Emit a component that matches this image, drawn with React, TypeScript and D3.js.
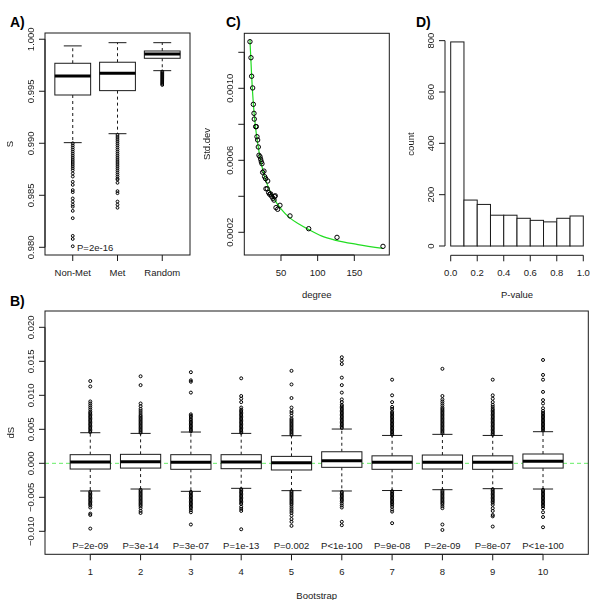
import React from 'react';
import * as d3 from 'd3';

// ---------- Panel A data ----------
const groupsA = ['Non-Met', 'Met', 'Random'];
const aQ1 = [0.99464, 0.99506, 0.99817];
const aMed = [0.99647, 0.99673, 0.99859];
const aQ3 = [0.99769, 0.99779, 0.99887];
const aLo = [0.99006, 0.99092, 0.99698];
const aHi = [0.99936, 0.99967, 0.99967];
const aOut = [
  [0.9900, 0.9898, 0.9896, 0.9894, 0.9892, 0.9890, 0.9888, 0.9886, 0.9884, 0.9882, 0.9880, 0.9878, 0.9876, 0.9874, 0.9871, 0.9868, 0.9863, 0.9860, 0.9855, 0.9853, 0.9847, 0.9844, 0.9841, 0.9839, 0.9835, 0.9828, 0.9811, 0.9808, 0.9801],
  [0.9908, 0.9906, 0.9904, 0.9902, 0.9900, 0.9898, 0.9896, 0.9894, 0.9892, 0.9890, 0.9888, 0.9886, 0.9884, 0.9882, 0.9880, 0.9878, 0.9876, 0.9874, 0.9872, 0.9870, 0.9868, 0.9866, 0.9865, 0.9862, 0.9854, 0.9852, 0.9844, 0.9841, 0.9838],
  [0.9969, 0.9968, 0.9967, 0.9966, 0.9965, 0.9964, 0.9963, 0.9962, 0.9961, 0.9960, 0.9959, 0.9958, 0.9957, 0.9956],
];
const aTicks = [0.980, 0.985, 0.990, 0.995, 1.000];
const aPLabel = 'P=2e-16';

// ---------- Panel C data ----------
const degree = [7.7, 9.1, 10.0, 11.4, 12.3, 13.2, 13.6, 15.5, 16.4, 17.3, 18.2, 19.1, 20.0, 21.4, 22.3, 23.2, 24.1, 25.0, 26.8, 27.7, 29.1, 31.9, 29.5, 31.3, 33.2, 34.6, 36.0, 37.3, 39.1, 40.5, 41.4, 42.2, 43.2, 45.5, 48.6, 62.3, 87.8, 126.4, 189.1];
const stdDev = [0.001259, 0.00117, 0.001067, 0.001002, 0.000911, 0.000861, 0.000829, 0.000787, 0.000787, 0.000731, 0.000713, 0.000674, 0.000628, 0.00062, 0.000606, 0.000592, 0.000581, 0.000533, 0.00054, 0.000509, 0.000498, 0.000485, 0.000442, 0.000442, 0.00042, 0.000411, 0.000413, 0.0004, 0.000389, 0.000379, 0.000398, 0.000403, 0.000337, 0.000328, 0.00035, 0.000291, 0.00022, 0.000172, 0.000122];
const fitDegree = [7.7, 10, 13, 16, 20, 25, 30, 35, 40, 50, 62, 75, 88, 105, 125, 155, 189];
const fitStd = [0.00127, 0.00107, 0.00088, 0.00076, 0.00065, 0.00055, 0.00048, 0.00043, 0.00039, 0.00033, 0.00028, 0.000245, 0.000215, 0.00018, 0.000155, 0.000132, 0.000111];
const cXTicks = [50, 100, 150];
const cYTicks = [0.0002, 0.0004, 0.0006, 0.0008, 0.0010, 0.0012];
const cYLabels = [0.0002, 0.0006, 0.0010];

// ---------- Panel D data ----------
const binStart = [0.0, 0.1, 0.2, 0.3, 0.4, 0.5, 0.6, 0.7, 0.8, 0.9];
const binCount = [795, 179, 162, 120, 120, 108, 100, 94, 108, 117];
const dXTicks = [0.0, 0.2, 0.4, 0.6, 0.8, 1.0];
const dYTicks = [0, 200, 400, 600, 800];

// ---------- Panel B data ----------
const bootIds = [1, 2, 3, 4, 5, 6, 7, 8, 9, 10];
const bQ1 = [-0.00084, -0.0007, -0.00088, -0.00079, -0.00098, -0.00059, -0.00088, -0.00084, -0.00088, -0.0007];
const bMed = [0.0002, 0.00024, 0.00015, 0.0002, 0.0001, 0.00039, 0.00015, 0.00014, 0.00015, 0.00029];
const bQ3 = [0.00127, 0.00132, 0.00127, 0.00127, 0.00102, 0.0017, 0.0011, 0.00122, 0.0011, 0.00137];
const bLo = [-0.00407, -0.00378, -0.00412, -0.00368, -0.00402, -0.00407, -0.004, -0.00388, -0.00373, -0.00378];
const bHi = [0.0045, 0.0044, 0.0046, 0.0044, 0.00406, 0.00504, 0.0041, 0.00426, 0.0041, 0.00465];
const bOut = [
  [0.0046, 0.0048, 0.0050, 0.0052, 0.0054, 0.0056, 0.0058, 0.0060, 0.0062, 0.0064, 0.0066, 0.0068, 0.0070, 0.0072, 0.0074, 0.0076, 0.0079, 0.0082, 0.0085, 0.0088, 0.0091, 0.0113, 0.0121,
   -0.0042, -0.0044, -0.0046, -0.0048, -0.0050, -0.0052, -0.0054, -0.0056, -0.0058, -0.0060, -0.0062, -0.0065, -0.0074, -0.0076, -0.0096],
  [0.0045, 0.0047, 0.0049, 0.0051, 0.0053, 0.0055, 0.0057, 0.0059, 0.0061, 0.0063, 0.0065, 0.0067, 0.0069, 0.0071, 0.0074, 0.0077, 0.0080, 0.0084, 0.0088, 0.0115, 0.0128,
   -0.0039, -0.0041, -0.0043, -0.0045, -0.0047, -0.0049, -0.0051, -0.0053, -0.0055, -0.0057, -0.0059, -0.0061, -0.0063, -0.0066, -0.0070, -0.0073],
  [0.0047, 0.0049, 0.0051, 0.0053, 0.0055, 0.0057, 0.0059, 0.0061, 0.0063, 0.0065, 0.0068, 0.0070, 0.0072, 0.0104, 0.0120, 0.0122, 0.0134,
   -0.0042, -0.0044, -0.0046, -0.0048, -0.0050, -0.0052, -0.0054, -0.0056, -0.0058, -0.0060, -0.0062, -0.0064, -0.0066, -0.0069, -0.0072, -0.0090],
  [0.0045, 0.0047, 0.0049, 0.0051, 0.0053, 0.0055, 0.0057, 0.0059, 0.0061, 0.0063, 0.0065, 0.0067, 0.0069, 0.0071, 0.0073, 0.0075, 0.0077, 0.0079, 0.0082, 0.0090, 0.0095, 0.0099, 0.0125,
   -0.0038, -0.0040, -0.0042, -0.0044, -0.0046, -0.0048, -0.0050, -0.0052, -0.0054, -0.0056, -0.0058, -0.0060, -0.0064, -0.0067, -0.0070, -0.0097],
  [0.0042, 0.0044, 0.0046, 0.0048, 0.0050, 0.0052, 0.0054, 0.0056, 0.0058, 0.0060, 0.0062, 0.0064, 0.0066, 0.0070, 0.0074, 0.0077, 0.0082, 0.0096, 0.0116, 0.0136,
   -0.0041, -0.0043, -0.0045, -0.0047, -0.0049, -0.0051, -0.0053, -0.0055, -0.0057, -0.0059, -0.0061, -0.0064, -0.0067, -0.0070, -0.0073, -0.0077, -0.0082, -0.0086, -0.0092],
  [0.0052, 0.0054, 0.0056, 0.0058, 0.0060, 0.0062, 0.0064, 0.0066, 0.0068, 0.0070, 0.0072, 0.0074, 0.0076, 0.0078, 0.0080, 0.0082, 0.0084, 0.0086, 0.0090, 0.0094, 0.0104, 0.0115, 0.0126, 0.0146, 0.0151, 0.0156,
   -0.0042, -0.0044, -0.0046, -0.0048, -0.0050, -0.0052, -0.0054, -0.0056, -0.0059, -0.0062, -0.0065, -0.0086, -0.0091],
  [0.0042, 0.0044, 0.0046, 0.0048, 0.0050, 0.0052, 0.0054, 0.0056, 0.0058, 0.0060, 0.0062, 0.0064, 0.0066, 0.0068, 0.0070, 0.0072, 0.0074, 0.0076, 0.0080, 0.0083, 0.0090, 0.0100, 0.0123,
   -0.0041, -0.0043, -0.0045, -0.0047, -0.0049, -0.0051, -0.0053, -0.0055, -0.0057, -0.0059, -0.0061, -0.0064, -0.0068, -0.0071, -0.0088],
  [0.0044, 0.0046, 0.0048, 0.0050, 0.0052, 0.0054, 0.0056, 0.0058, 0.0060, 0.0062, 0.0064, 0.0066, 0.0068, 0.0070, 0.0072, 0.0074, 0.0076, 0.0078, 0.0080, 0.0082, 0.0085, 0.0088, 0.0091, 0.0094, 0.0099, 0.0139,
   -0.0040, -0.0042, -0.0044, -0.0046, -0.0048, -0.0050, -0.0052, -0.0054, -0.0056, -0.0058, -0.0060, -0.0063, -0.0066, -0.0090, -0.0098],
  [0.0042, 0.0044, 0.0046, 0.0048, 0.0050, 0.0052, 0.0054, 0.0056, 0.0058, 0.0060, 0.0062, 0.0064, 0.0066, 0.0068, 0.0070, 0.0072, 0.0074, 0.0076, 0.0078, 0.0080, 0.0083, 0.0086, 0.0090, 0.0095, 0.0100, 0.0123,
   -0.0038, -0.0040, -0.0042, -0.0044, -0.0046, -0.0048, -0.0050, -0.0052, -0.0054, -0.0056, -0.0058, -0.0061, -0.0066, -0.0070, -0.0076, -0.0078, -0.0093],
  [0.0048, 0.0050, 0.0052, 0.0054, 0.0056, 0.0058, 0.0060, 0.0062, 0.0064, 0.0066, 0.0068, 0.0070, 0.0072, 0.0074, 0.0077, 0.0081, 0.0088, 0.0093, 0.0105, 0.0123, 0.0130, 0.0152,
   -0.0039, -0.0041, -0.0043, -0.0045, -0.0047, -0.0049, -0.0051, -0.0053, -0.0055, -0.0057, -0.0059, -0.0061, -0.0063, -0.0066, -0.0072, -0.0079, -0.0094],
];
const bPLabels = ['P=2e-09', 'P=3e-14', 'P=3e-07', 'P=1e-13', 'P=0.002', 'P<1e-100', 'P=9e-08', 'P=2e-09', 'P=8e-07', 'P<1e-100'];
const bYTicks = [-0.010, -0.005, 0.000, 0.005, 0.010, 0.015, 0.020];

// ---------- styling ----------
const FONT = '"Liberation Sans", Arial, Helvetica, sans-serif';
const FS = 9.5;
const TXT = '#1a1a1a';
const LINE = '#1a1a1a';
const TICK = 6;
const GRAY = 'url(#grayText)';

type BoxProps = {
  cx: number; bw: number; y: (v: number) => number;
  q1: number; med: number; q3: number; lo: number; hi: number; out: number[]; r: number;
};

function Box({ cx, bw, y, q1, med, q3, lo, hi, out, r }: BoxProps) {
  const hw = bw / 2;
  const cw = bw / 4;
  return (
    <g>
      <line x1={cx} x2={cx} y1={y(q3)} y2={y(hi)} stroke={LINE} strokeWidth={1} strokeDasharray="3,3" />
      <line x1={cx} x2={cx} y1={y(q1)} y2={y(lo)} stroke={LINE} strokeWidth={1} strokeDasharray="3,3" />
      <line x1={cx - cw} x2={cx + cw} y1={y(hi)} y2={y(hi)} stroke={LINE} strokeWidth={1} />
      <line x1={cx - cw} x2={cx + cw} y1={y(lo)} y2={y(lo)} stroke={LINE} strokeWidth={1} />
      <rect x={cx - hw} y={y(q3)} width={bw} height={y(q1) - y(q3)} fill="#fff" stroke={LINE} strokeWidth={1} />
      <line x1={cx - hw} x2={cx + hw} y1={y(med)} y2={y(med)} stroke="#000" strokeWidth={3} />
      {out.map((v, i) => (
        <circle key={i} cx={cx} cy={y(v)} r={r} fill="none" stroke="#000" strokeWidth={1} />
      ))}
    </g>
  );
}

function YAxis({ x, y, ticks, labels, fmt }: { x: number; y: (v: number) => number; ticks: number[]; labels: number[]; fmt: (v: number) => string }) {
  const ys = ticks.map(y);
  return (
    <g>
      <line x1={x} x2={x} y1={Math.min(...ys)} y2={Math.max(...ys)} stroke={LINE} />
      {ticks.map((t, i) => (
        <line key={i} x1={x - TICK} x2={x} y1={y(t)} y2={y(t)} stroke={LINE} />
      ))}
      <g filter={GRAY}>
        {labels.map((t, i) => (
          <text key={i} transform={`translate(${x - 15},${y(t)}) rotate(-90)`} textAnchor="middle" dominantBaseline="central"
            fontSize={FS} fontFamily={FONT} fill={TXT}>{fmt(t)}</text>
        ))}
      </g>
    </g>
  );
}

function XAxis({ y, x, ticks, fmt }: { y: number; x: (v: number) => number; ticks: number[]; fmt: (v: number) => string }) {
  const xs = ticks.map(x);
  return (
    <g>
      <line y1={y} y2={y} x1={Math.min(...xs)} x2={Math.max(...xs)} stroke={LINE} />
      {ticks.map((t, i) => (
        <line key={i} y1={y} y2={y + TICK} x1={x(t)} x2={x(t)} stroke={LINE} />
      ))}
      {ticks.map((t, i) => (
        <text key={i} x={x(t)} y={y + 17} textAnchor="middle" dominantBaseline="central"
          fontSize={FS} fontFamily={FONT} fill={TXT}>{fmt(t)}</text>
      ))}
    </g>
  );
}

const PanelLabel = ({ x, y, t }: { x: number; y: number; t: string }) => (
  <text x={x} y={y} fontSize={14} fontWeight="bold" fontFamily={FONT} fill="#000">{t}</text>
);

const VText = ({ x, y, t }: { x: number; y: number; t: string }) => (
  <g filter={GRAY}>
    <text transform={`translate(${x},${y}) rotate(-90)`} textAnchor="middle" dominantBaseline="central"
      fontSize={FS} fontFamily={FONT} fill={TXT}>{t}</text>
  </g>
);

export default function App() {
  // Panel A
  const aL = 45, aR = 190, top = 33, bot = 255;
  const xA = d3.scaleLinear().domain([0.38, 3.62]).range([aL, aR]);
  const yA = d3.scaleLinear().domain([0.97926, 1.0006]).range([bot, top]);
  const bwA = xA(0.8) - xA(0);

  // Panel C
  const cL = 244.3, cR = 389.3;
  const xC = d3.scaleLinear().domain([0, 197.7]).range([cL, cR]);
  const yC = d3.scaleLinear().domain([0.0000739, 0.0013056]).range([bot, 33.3]);
  const fitLine = d3.line<number>().x((d, i) => xC(fitDegree[i])).y((d) => yC(d)).curve(d3.curveMonotoneX);

  // Panel D
  const xD = d3.scaleLinear().domain([-0.04, 1.04]).range([445.4, 588.6]);
  const yD = d3.scaleLinear().domain([-35, 829.8]).range([bot, top]);

  // Panel B
  const bL = 45, bR = 588.3, bT = 311, bB = 554.3;
  const xB = d3.scaleLinear().domain([0.1, 10.9]).range([bL, bR]);
  const yB = d3.scaleLinear().domain([-0.01338, 0.0224]).range([bB, bT]);
  const bwB = xB(0.8) - xB(0);

  return (
    <svg width={600} height={600} style={{ position: 'absolute', left: 0, top: 0, background: '#fff' }}>
      <defs>
        <filter id="grayText" x="-20%" y="-20%" width="140%" height="140%">
          <feColorMatrix type="saturate" values="0" />
        </filter>
      </defs>
      <rect width={600} height={600} fill="#fff" />

      {/* ---------- A ---------- */}
      <PanelLabel x={10} y={27} t="A)" />
      {groupsA.map((g, i) => (
        <Box key={g} cx={xA(i + 1)} bw={bwA} y={yA} q1={aQ1[i]} med={aMed[i]} q3={aQ3[i]} lo={aLo[i]} hi={aHi[i]} out={aOut[i]} r={1.4} />
      ))}
      <rect x={aL} y={top} width={aR - aL} height={bot - top} fill="none" stroke={LINE} />
      <YAxis x={aL} y={yA} ticks={aTicks} labels={aTicks} fmt={d3.format('.3f')} />
      {groupsA.map((g, i) => (
        <g key={g}>
          <line x1={xA(i + 1)} x2={xA(i + 1)} y1={bot} y2={bot + TICK} stroke={LINE} />
          <text x={xA(i + 1)} y={bot + 17} textAnchor="middle" dominantBaseline="central" fontSize={FS} fontFamily={FONT} fill={TXT}>{g}</text>
        </g>
      ))}
      <text x={xA(1.5)} y={yA(0.980)} textAnchor="middle" dominantBaseline="central" fontSize={FS} fontFamily={FONT} fill={TXT}>{aPLabel}</text>
      <VText x={9} y={(top + bot) / 2} t="S" />

      {/* ---------- C ---------- */}
      <PanelLabel x={226} y={27} t="C)" />
      <path d={fitLine(fitStd) || ''} fill="none" stroke="#22dd22" strokeWidth={1.2} />
      {degree.map((d, i) => (
        <circle key={i} cx={xC(d)} cy={yC(stdDev[i])} r={2.2} fill="none" stroke="#000" strokeWidth={1} />
      ))}
      <rect x={cL} y={33.3} width={cR - cL} height={bot - 33.3} fill="none" stroke={LINE} />
      <YAxis x={cL} y={yC} ticks={cYTicks} labels={cYLabels} fmt={d3.format('.4f')} />
      <XAxis y={bot} x={xC} ticks={cXTicks} fmt={(v) => String(v)} />
      <text x={(cL + cR) / 2} y={294} textAnchor="middle" dominantBaseline="central" fontSize={FS} fontFamily={FONT} fill={TXT}>degree</text>
      <VText x={206} y={(top + bot) / 2} t="Std.dev" />

      {/* ---------- D ---------- */}
      <PanelLabel x={416} y={27} t="D)" />
      {binStart.map((b, i) => (
        <rect key={i} x={xD(b)} y={yD(binCount[i])} width={xD(b + 0.1) - xD(b)} height={yD(0) - yD(binCount[i])}
          fill="#fff" stroke={LINE} strokeWidth={1} />
      ))}
      <YAxis x={445} y={yD} ticks={dYTicks} labels={dYTicks} fmt={(v) => String(v)} />
      <XAxis y={255.3} x={xD} ticks={dXTicks} fmt={d3.format('.1f')} />
      <text x={517} y={294} textAnchor="middle" dominantBaseline="central" fontSize={FS} fontFamily={FONT} fill={TXT}>P-value</text>
      <VText x={410} y={(top + bot) / 2} t="count" />

      {/* ---------- B ---------- */}
      <PanelLabel x={10} y={306} t="B)" />
      <line x1={bL} x2={bR} y1={yB(0)} y2={yB(0)} stroke="#66ee66" strokeWidth={1} strokeDasharray="4,3" />
      {bootIds.map((id, i) => (
        <Box key={id} cx={xB(id)} bw={bwB} y={yB} q1={bQ1[i]} med={bMed[i]} q3={bQ3[i]} lo={bLo[i]} hi={bHi[i]} out={bOut[i]} r={1.5} />
      ))}
      {bootIds.map((id, i) => (
        <text key={id} x={xB(id)} y={yB(-0.0121)} textAnchor="middle" dominantBaseline="central" fontSize={FS} fontFamily={FONT} fill={TXT}>{bPLabels[i]}</text>
      ))}
      <rect x={bL} y={bT} width={bR - bL} height={bB - bT} fill="none" stroke={LINE} />
      <YAxis x={bL} y={yB} ticks={bYTicks} labels={bYTicks} fmt={d3.format('.3f')} />
      <XAxis y={bB} x={xB} ticks={bootIds} fmt={(v) => String(v)} />
      <text x={316.7} y={595} textAnchor="middle" dominantBaseline="central" fontSize={FS} fontFamily={FONT} fill={TXT}>Bootstrap</text>
      <VText x={10} y={(bT + bB) / 2} t="dS" />
    </svg>
  );
}
